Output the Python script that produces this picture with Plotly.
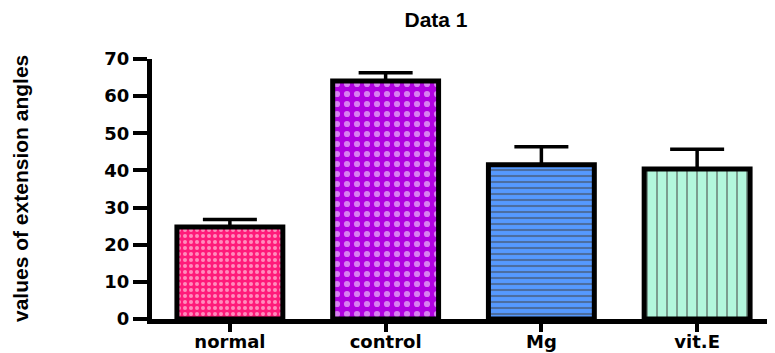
import plotly.graph_objects as go

categories = ["normal", "control", "Mg", "vit.E"]
means = [24.8, 64.1, 41.5, 40.4]
sem = [2.0, 2.2, 4.9, 5.3]
y_ticks = [0, 10, 20, 30, 40, 50, 60, 70]

bg_colors = ["#FF1A7A", "#B000E0", "#5599FF", "#B2F7DD"]
fg_colors = ["#FF6FA6", "#C468D6", "#4A4AE0", "#3FE3A2"]
shapes = [".", ".", "-", "|"]
sizes = [6, 10, 6, 10]
solid = [0.35, 0.3, 0.35, 0.2]

# The page body has an 8px default margin; size the figure so it fills the window.
W, H = 767, 345

fig = go.Figure()
fig.add_trace(go.Bar(
    x=categories, y=means, width=0.68,
    marker=dict(
        color=bg_colors,
        line=dict(color="black", width=5),
        pattern=dict(shape=shapes, fgcolor=fg_colors,
                     size=sizes, solidity=solid, fillmode="overlay"),
    ),
    error_y=dict(type="data", symmetric=False, array=sem, arrayminus=[0]*4,
                 color="black", thickness=3.5, width=27),
))

fig.update_layout(
    width=W, height=H,
    margin=dict(l=144, r=0, t=51, b=34, autoexpand=False),
    paper_bgcolor="white", plot_bgcolor="white",
    showlegend=False,
    font=dict(family="Liberation Sans, Arial", color="black"),
    title=dict(text="Data 1", x=428/W, xanchor="center", y=1-12/H, yanchor="middle",
               font=dict(size=21, family="Liberation Sans, Arial", weight="bold", color="black")),
)
fig.update_xaxes(
    range=[-0.5, 3.5], showline=True, linewidth=5, linecolor="black",
    ticks="outside", ticklen=8, tickwidth=4, tickcolor="black", ticklabelstandoff=-6,
    tickfont=dict(size=18, family="DejaVu Sans", weight="bold", color="black"),
    showgrid=False, zeroline=False, automargin=False,
)
fig.update_yaxes(
    range=[0, 70], tickvals=y_ticks, showline=True, linewidth=5, linecolor="black",
    ticks="outside", ticklen=14, tickwidth=4, tickcolor="black",
    tickfont=dict(size=18, family="DejaVu Sans", weight="bold", color="black"),
    showgrid=False, zeroline=False, automargin=False,
)
fig.add_annotation(
    text="values of extension angles", xref="paper", yref="paper",
    x=0, y=0.5, xshift=-132, xanchor="center", yanchor="middle",
    textangle=-90, showarrow=False,
    font=dict(size=21, family="Liberation Sans, Arial", weight="bold", color="black"),
)

fig.write_html("out.html")
